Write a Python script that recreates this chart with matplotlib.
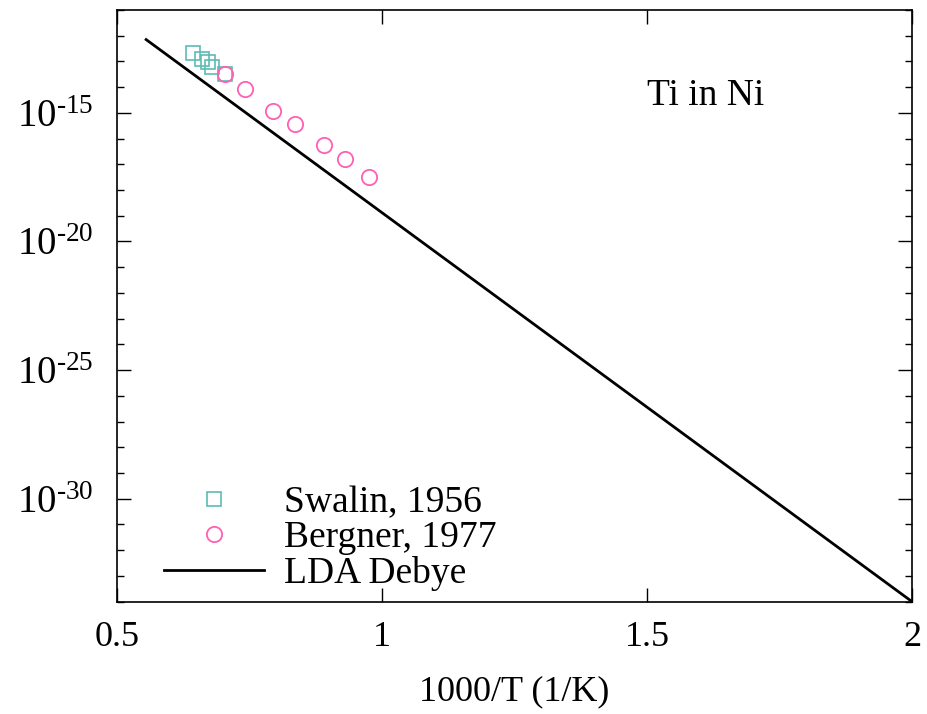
import numpy as np
import matplotlib.pyplot as plt
from matplotlib.ticker import FixedLocator, FixedFormatter, NullFormatter

plt.rcParams['font.family'] = ['Liberation Serif', 'DejaVu Serif']
plt.rcParams['mathtext.fontset'] = 'custom'
plt.rcParams['mathtext.rm'] = 'Liberation Serif'
plt.rcParams['mathtext.it'] = 'Liberation Serif:italic'

# ---- data ----
swalin_x = [0.644, 0.660, 0.672, 0.679, 0.703]
swalin_logD = [-12.68, -12.92, -13.02, -13.20, -13.48]

bergner_x = [0.703, 0.742, 0.794, 0.835, 0.890, 0.930, 0.975]
bergner_logD = [-13.48, -14.09, -14.91, -15.44, -16.23, -16.78, -17.48]

lda_x = [0.555, 2.0]
lda_logD = [-12.15, -34.0]

yticks = [1e-15, 1e-20, 1e-25, 1e-30]
ytick_labels = [r'$10^{\text{-15}}$', r'$10^{\text{-20}}$', r'$10^{\text{-25}}$', r'$10^{\text{-30}}$']
xticks = [0.5, 1, 1.5, 2]
xtick_labels = ['0.5', '1', '1.5', '2']

fig = plt.figure(figsize=(9.27, 7.14), dpi=100)
ax = fig.add_axes([0.1262, 0.1574, 0.8576, 0.8286])

ax.plot(swalin_x, 10.0 ** np.array(swalin_logD), 's', ms=10.5, mfc='none',
        mec='#5cbcb4', mew=1.2, label='Swalin, 1956')
ax.plot(bergner_x, 10.0 ** np.array(bergner_logD), 'o', ms=11, mfc='none',
        mec='#ff5fb4', mew=1.3, label='Bergner, 1977')
ax.plot(lda_x, 10.0 ** np.array(lda_logD), '-', color='black', lw=2,
        label='LDA Debye')

ax.set_yscale('log')
ax.set_xlim(0.5, 2)
ax.set_ylim(1e-34, 1e-11)

ax.yaxis.set_major_locator(FixedLocator(yticks))
ax.yaxis.set_major_formatter(FixedFormatter(ytick_labels))
ax.yaxis.set_minor_locator(FixedLocator([10.0 ** e for e in range(-34, -10)]))
ax.yaxis.set_minor_formatter(NullFormatter())
ax.xaxis.set_major_locator(FixedLocator(xticks))
ax.xaxis.set_major_formatter(FixedFormatter(xtick_labels))

ax.tick_params(which='both', direction='in', top=True, right=True, labelsize=26)
ax.tick_params(axis='y', labelsize=28)
ax.tick_params(which='major', length=10, width=1)
ax.tick_params(which='minor', length=5, width=1)
ax.tick_params(axis='x', pad=14)
ax.tick_params(axis='y', pad=17)
for s in ax.spines.values():
    s.set_linewidth(1.2)

ax.set_xlabel('1000/T (1/K)', fontsize=26, labelpad=15)
ax.text(0.74, 0.855, 'Ti in Ni', transform=ax.transAxes, fontsize=27,
        ha='center', va='center')

ax.legend(loc='lower left', bbox_to_anchor=(0.031, -0.02), frameon=False,
          fontsize=27, handlelength=2.65, handletextpad=0.55, labelspacing=0.02,
          borderaxespad=0.2)

fig.savefig('out.png', dpi=100)
